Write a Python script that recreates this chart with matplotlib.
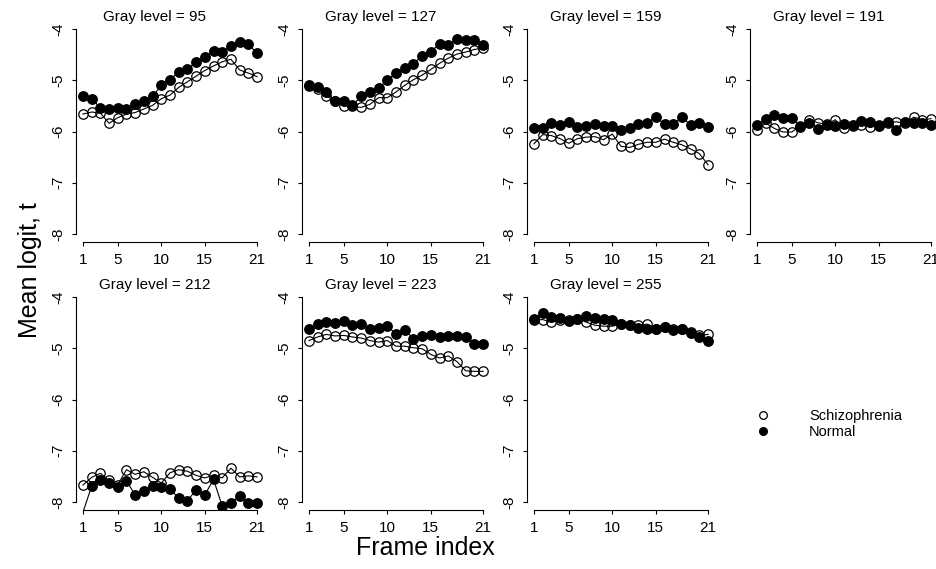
import matplotlib
matplotlib.use("Agg")
import matplotlib.pyplot as plt
from matplotlib.lines import Line2D
import numpy as np

plt.rcParams['font.family'] = ['Liberation Sans', 'DejaVu Sans']

frames = np.arange(1, 22)
gray_levels = [95, 127, 159, 191, 212, 223, 255]

schizo_95 = [-5.66, -5.62, -5.64, -5.84, -5.73, -5.66, -5.63, -5.56, -5.49, -5.36, -5.29,
             -5.14, -5.03, -4.92, -4.81, -4.72, -4.64, -4.59, -4.80, -4.86, -4.93]
normal_95 = [-5.30, -5.36, -5.54, -5.56, -5.54, -5.56, -5.46, -5.40, -5.31, -5.10, -4.99,
             -4.83, -4.79, -4.64, -4.54, -4.42, -4.45, -4.33, -4.26, -4.30, -4.47]

schizo_127 = [-5.11, -5.17, -5.31, -5.40, -5.50, -5.51, -5.53, -5.47, -5.34, -5.34, -5.23,
              -5.10, -4.99, -4.90, -4.79, -4.67, -4.57, -4.49, -4.45, -4.40, -4.37]
normal_127 = [-5.09, -5.14, -5.23, -5.41, -5.40, -5.49, -5.31, -5.22, -5.16, -4.99, -4.86,
              -4.77, -4.68, -4.52, -4.44, -4.29, -4.31, -4.20, -4.21, -4.21, -4.32]

schizo_159 = [-6.24, -6.06, -6.08, -6.14, -6.23, -6.14, -6.11, -6.10, -6.16, -6.05, -6.29,
              -6.31, -6.25, -6.21, -6.21, -6.15, -6.21, -6.26, -6.34, -6.43, -6.65]
normal_159 = [-5.94, -5.94, -5.84, -5.88, -5.82, -5.92, -5.90, -5.85, -5.89, -5.90, -5.97,
              -5.94, -5.86, -5.84, -5.71, -5.86, -5.86, -5.71, -5.88, -5.84, -5.91]

schizo_191 = [-5.97, -5.84, -5.94, -6.01, -6.01, -5.89, -5.77, -5.83, -5.86, -5.77, -5.94,
              -5.90, -5.87, -5.92, -5.87, -5.84, -5.81, -5.84, -5.72, -5.77, -5.75]
normal_191 = [-5.87, -5.76, -5.68, -5.74, -5.73, -5.92, -5.83, -5.95, -5.87, -5.89, -5.86,
              -5.87, -5.80, -5.81, -5.89, -5.81, -5.97, -5.81, -5.84, -5.84, -5.88]

schizo_212 = [-7.67, -7.52, -7.44, -7.58, -7.66, -7.37, -7.46, -7.41, -7.52, -7.63, -7.43,
              -7.37, -7.40, -7.48, -7.53, -7.48, -7.53, -7.34, -7.51, -7.49, -7.51]
normal_212 = [-8.20, -7.69, -7.58, -7.62, -7.71, -7.59, -7.86, -7.79, -7.69, -7.71, -7.74,
              -7.93, -7.98, -7.76, -7.86, -7.56, -8.08, -8.01, -7.89, -8.02, -8.02]

schizo_223 = [-4.85, -4.78, -4.73, -4.76, -4.75, -4.78, -4.80, -4.85, -4.88, -4.85, -4.96,
              -4.96, -4.99, -5.01, -5.12, -5.19, -5.15, -5.26, -5.44, -5.45, -5.45]
normal_223 = [-4.63, -4.52, -4.49, -4.51, -4.47, -4.55, -4.53, -4.62, -4.60, -4.57, -4.72,
              -4.65, -4.81, -4.77, -4.75, -4.78, -4.77, -4.77, -4.78, -4.92, -4.92]

schizo_255 = [-4.45, -4.44, -4.49, -4.45, -4.45, -4.42, -4.49, -4.55, -4.57, -4.57, -4.53,
              -4.55, -4.55, -4.53, -4.62, -4.59, -4.63, -4.63, -4.69, -4.75, -4.73]
normal_255 = [-4.42, -4.31, -4.39, -4.40, -4.47, -4.42, -4.38, -4.40, -4.42, -4.44, -4.53,
              -4.55, -4.61, -4.62, -4.62, -4.59, -4.65, -4.62, -4.70, -4.78, -4.85]

schizo = [schizo_95, schizo_127, schizo_159, schizo_191, schizo_212, schizo_223, schizo_255]
normal = [normal_95, normal_127, normal_159, normal_191, normal_212, normal_223, normal_255]

x_ticks = [1, 5, 10, 15, 21]
y_ticks = [-8, -7, -6, -5, -4]

W, H = 937, 569
fig = plt.figure(figsize=(W / 100, H / 100), dpi=100)

# panel boxes in pixels (left, top), R-style 4% padding around data range
lefts = [76, 302, 527, 750]
tops = [20.8, 288.8]
pw, ph = 188, 221.4

ylo, yhi = -8.16, -3.84
for i, g in enumerate(gray_levels):
    r, c = divmod(i, 4)
    ax = fig.add_axes([lefts[c] / W, 1 - (tops[r] + ph) / H, pw / W, ph / H])
    ax.set_xlim(0.2, 21.8)
    ax.set_ylim(ylo, yhi)
    s = np.array(schizo[i])
    n = np.array(normal[i])
    ax.plot(frames, s, color='black', lw=0.8)
    ax.plot(frames, n, color='black', lw=0.8)
    # points below the plot region are not drawn, only their line segment
    ms = (s >= ylo)
    mn = (n >= ylo)
    ax.plot(frames[ms], s[ms], 'o', ls='none', mfc='none', mec='black', mew=0.9, ms=6.8)
    ax.plot(frames[mn], n[mn], 'o', ls='none', mfc='black', mec='black', ms=6.8)
    for side in ['top', 'right']:
        ax.spines[side].set_visible(False)
    ax.spines['left'].set_bounds(-8, -4)
    ax.spines['bottom'].set_bounds(1, 21)
    ax.spines['left'].set_linewidth(0.8)
    ax.spines['bottom'].set_linewidth(0.8)
    ax.set_xticks(x_ticks)
    ax.set_yticks(y_ticks)
    ax.set_yticklabels([str(t) for t in y_ticks])
    ax.tick_params(length=3, width=0.8, pad=5, labelsize=11)
    ax.tick_params(axis='y', labelrotation=90)
    for lab in ax.get_yticklabels():
        lab.set_va('center')
    ax.text(0.42, 1.0, f"Gray level = {g}", transform=ax.transAxes,
            ha='center', va='baseline', fontsize=11)

fig.text(30 / W, 1 - 270 / H, "Mean logit, t", rotation=90, ha='center', va='center', fontsize=18)
fig.text(425 / W, 1 - 548 / H, "Frame index", ha='center', va='center', fontsize=18)

handles = [Line2D([], [], ls='none', marker='o', mfc='none', mec='black', ms=5.5, mew=0.9),
           Line2D([], [], ls='none', marker='o', mfc='black', mec='black', ms=5.5)]
fig.legend(handles, ["Schizophrenia", "Normal"], loc='center left',
           bbox_to_anchor=(748 / W, 1 - 424 / H), frameon=False, fontsize=10.5,
           handletextpad=2.2, labelspacing=0.1, borderpad=0, borderaxespad=0)

fig.savefig("out.png", dpi=100)
